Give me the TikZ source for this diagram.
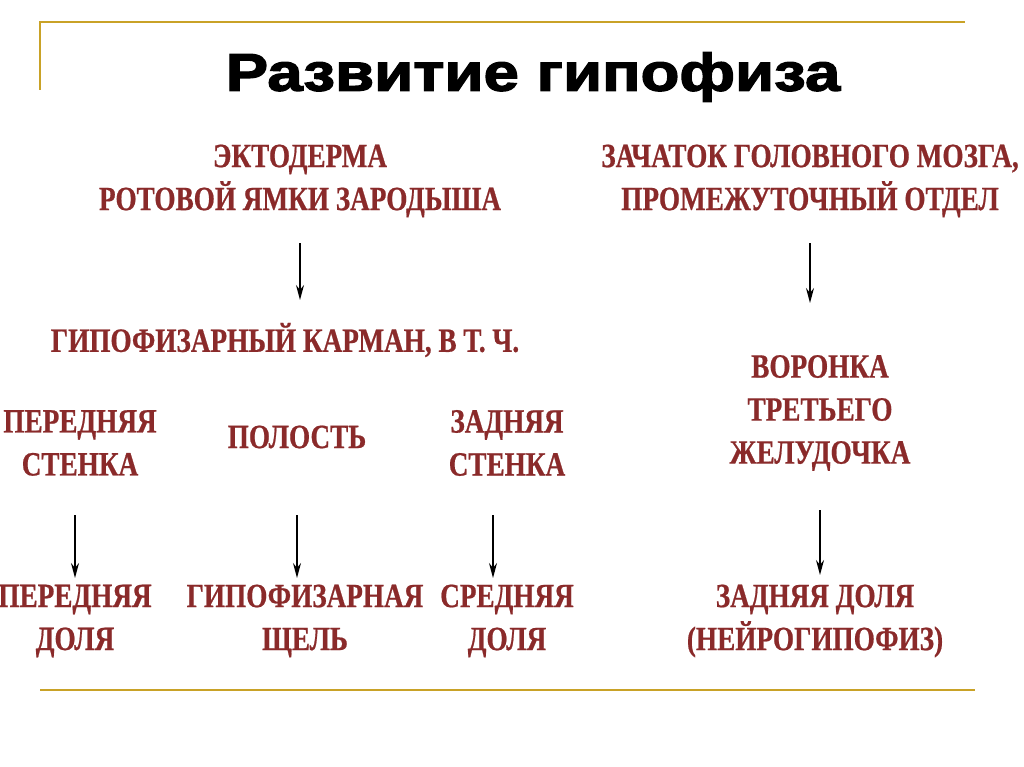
\documentclass[tikz,border=0pt]{standalone}
\usepackage{fontspec}
\usetikzlibrary{arrows.meta}
\setmainfont{Liberation Serif}
\newfontfamily\redf[FakeStretch=0.8,FakeBold=0.6]{Liberation Serif}
\newfontfamily\titlef[FakeStretch=1.2,FakeBold=2.5]{Liberation Sans}
\definecolor{rt}{HTML}{8A2A2A}
\definecolor{gold}{HTML}{C9A227}
\begin{document}
\begin{tikzpicture}[x=1pt,y=-1pt,
  lbl/.style={text=rt,font=\redf\bfseries\fontsize{34}{43}\selectfont,align=center,inner sep=0pt},
  arr/.style={-{Stealth[length=15pt,width=8pt]},line width=1.4pt}]
\useasboundingbox[fill=white] (0,0) rectangle (1024,767);
\draw[gold,line width=1.5pt] (40,90) -- (40,22) -- (965,22);
\draw[gold,line width=1.5pt] (40,690) -- (975,690);
\node[font=\titlef\bfseries\fontsize{53}{56}\selectfont] (title) at (533,77) {Развитие гипофиза};
\node[lbl] (ecto) at (300,181) {ЭКТОДЕРМА\\РОТОВОЙ ЯМКИ ЗАРОДЫША};
\node[lbl] (brain) at (810,181) {ЗАЧАТОК ГОЛОВНОГО МОЗГА,\\ПРОМЕЖУТОЧНЫЙ ОТДЕЛ};
\node[lbl] (karman) at (285,340) {ГИПОФИЗАРНЫЙ КАРМАН, В Т. Ч.};
\node[lbl] (ps) at (80,443) {ПЕРЕДНЯЯ\\СТЕНКА};
\node[lbl] (pol) at (297,437) {ПОЛОСТЬ};
\node[lbl] (zs) at (507,443) {ЗАДНЯЯ\\СТЕНКА};
\node[lbl] (vor) at (820,413) {ВОРОНКА\\ТРЕТЬЕГО\\ЖЕЛУДОЧКА};
\node[lbl] (pd) at (75,621) {ПЕРЕДНЯЯ\\ДОЛЯ};
\node[lbl] (gs) at (305,621) {ГИПОФИЗАРНАЯ\\ЩЕЛЬ};
\node[lbl] (sd) at (507,621) {СРЕДНЯЯ\\ДОЛЯ};
\node[lbl] (zd) at (815,621) {ЗАДНЯЯ ДОЛЯ\\(НЕЙРОГИПОФИЗ)};
\coordinate (a1s) at (300,243); \coordinate (a1e) at (300,300);
\coordinate (a2s) at (810,243); \coordinate (a2e) at (810,303);
\coordinate (a3s) at (75,515); \coordinate (a3e) at (75,578);
\coordinate (a4s) at (297,515); \coordinate (a4e) at (297,578);
\coordinate (a5s) at (493,515); \coordinate (a5e) at (493,578);
\coordinate (a6s) at (820,510); \coordinate (a6e) at (820,575);
\foreach \i in {1,...,6} \draw[arr] (a\i s) -- (a\i e);
\end{tikzpicture}
\end{document}
